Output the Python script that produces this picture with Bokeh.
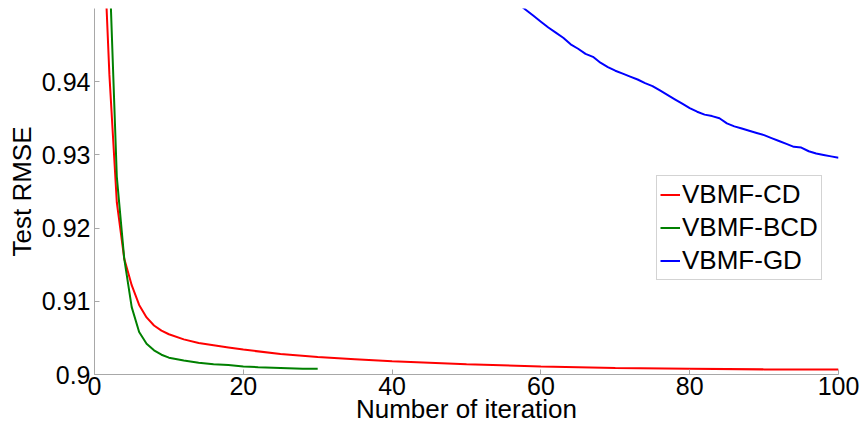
from bokeh.plotting import figure
from bokeh.models import Range1d, FixedTicker, CustomJSTickFormatter, Legend, LegendItem
from bokeh.embed import file_html
from bokeh.resources import INLINE

# ---- data ----
x_cd = [1, 2, 3, 4, 5, 6, 7, 8, 9, 10, 12, 14, 16, 18, 20, 25, 30, 35, 40, 50, 60, 70, 80, 90, 100]
y_cd = [0.965, 0.941, 0.9235, 0.9158, 0.9122, 0.9095, 0.9078, 0.9067, 0.9060, 0.9055,
        0.9048, 0.9043, 0.9040, 0.9037, 0.9034, 0.9028, 0.9024, 0.9021, 0.9018, 0.9014,
        0.9011, 0.9009, 0.9008, 0.9007, 0.9007]

x_bcd = [1, 2, 3, 4, 5, 6, 7, 8, 9, 10, 12, 14, 16, 18, 20, 22, 25, 28, 30]
y_bcd = [0.985, 0.956, 0.927, 0.9158, 0.9092, 0.9058, 0.9042, 0.9033, 0.9027, 0.9023,
         0.9019, 0.9016, 0.9014, 0.9013, 0.9011, 0.9010, 0.9009, 0.9008, 0.9008]

x_gd = list(range(55, 101))
y_gd = [0.9522, 0.9514, 0.9506, 0.9498, 0.9490, 0.9482, 0.9474, 0.9467, 0.9460, 0.9451,
        0.9445, 0.9438, 0.9434, 0.9426, 0.9420, 0.9415, 0.9411, 0.9407, 0.9403, 0.9398,
        0.9394, 0.9388, 0.9382, 0.9376, 0.9370, 0.9364, 0.9359, 0.9355, 0.9353, 0.9350,
        0.9343, 0.9339, 0.9336, 0.9333, 0.9330, 0.9327, 0.9323, 0.9319, 0.9315, 0.9311,
        0.9310, 0.9305, 0.9302, 0.9300, 0.9298, 0.9296]

series_names = ["VBMF-CD", "VBMF-BCD", "VBMF-GD"]
x_ticks = [0, 20, 40, 60, 80, 100]
y_ticks = [0.9, 0.91, 0.92, 0.93, 0.94]

FONT = "Liberation Sans"
GREY = "#a8a8a8"

p = figure(width=862, height=428, output_backend="svg", toolbar_location=None,
           x_range=Range1d(0, 100), y_range=Range1d(0.9, 0.95),
           min_border_left=94, min_border_right=24, min_border_top=8, min_border_bottom=54)
p.outline_line_color = None
p.xgrid.visible = False
p.ygrid.visible = False
p.background_fill_color = "white"
p.border_fill_color = "white"

r_cd = p.line(x_cd, y_cd, line_color="#ff0000", line_width=2)
r_bcd = p.line(x_bcd, y_bcd, line_color="#008000", line_width=2)
r_gd = p.line(x_gd, y_gd, line_color="#0000ff", line_width=2)

for ax in (p.xaxis[0], p.yaxis[0]):
    ax.axis_line_color = GREY
    ax.major_tick_line_color = GREY
    ax.major_tick_in = 5
    ax.major_tick_out = 0
    ax.minor_tick_line_color = None
    ax.major_label_text_font = FONT
    ax.major_label_text_font_size = "25px"
    ax.major_label_text_color = "black"
    ax.axis_label_text_font = FONT
    ax.axis_label_text_font_size = "26px"
    ax.axis_label_text_font_style = "normal"
    ax.axis_label_text_color = "black"

p.xaxis.ticker = FixedTicker(ticks=x_ticks)
p.yaxis.ticker = FixedTicker(ticks=y_ticks)
p.yaxis.formatter = CustomJSTickFormatter(code="return Number(tick.toFixed(2)).toString();")
p.xaxis.axis_label = "Number of iteration"
p.yaxis.axis_label = "Test RMSE"
p.xaxis.major_label_standoff = 2
p.yaxis.major_label_standoff = 4
p.xaxis.axis_label_standoff = -4
p.yaxis.axis_label_standoff = 2

legend = Legend(items=[LegendItem(label=series_names[0], renderers=[r_cd]),
                       LegendItem(label=series_names[1], renderers=[r_bcd]),
                       LegendItem(label=series_names[2], renderers=[r_gd])],
                location=(562, 94))
legend.border_line_color = GREY
legend.border_line_width = 1
legend.background_fill_color = "white"
legend.label_text_font = FONT
legend.label_text_font_size = "26px"
legend.label_text_color = "black"
legend.glyph_width = 20
legend.glyph_height = 29
legend.label_height = 29
legend.label_standoff = 2
legend.padding = 3
legend.spacing = 2
legend.margin = 0
p.add_layout(legend)

open("out.html", "w").write(file_html(p, INLINE))
